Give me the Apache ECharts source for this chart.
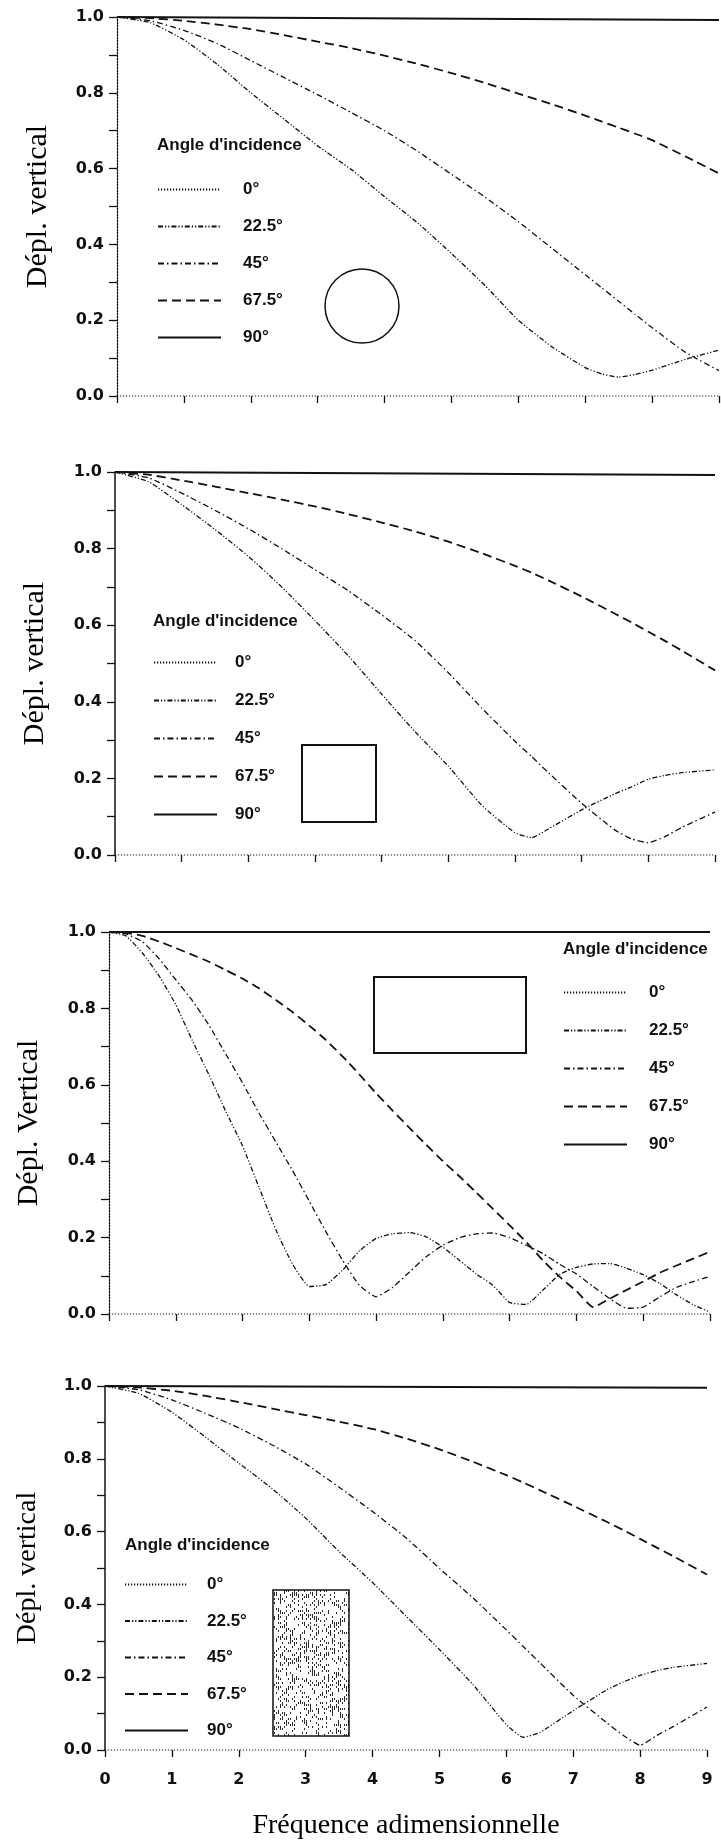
<!DOCTYPE html>
<html>
<head>
<meta charset="utf-8">
<script src="https://cdn.jsdelivr.net/npm/echarts@6/dist/echarts.min.js"></script>
<style>
  html, body { margin: 0; padding: 0; background: #fff; }
  #chart { width: 721px; height: 1847px; }
</style>
</head>
<body>
<div id="chart"></div>
<script>
// Vertical displacement ratio vs. dimensionless frequency, for four foundation shapes
// (circle, square, rectangle, stippled strip) and five angles of incidence.

const ANGLES = ['0°', '22.5°', '45°', '67.5°', '90°'];
const X_TICKS = [0, 1, 2, 3, 4, 5, 6, 7, 8, 9];

// Straight lines (0° and 90°) only need their end points
const FREQ_ENDS = [0, 9];
const ZERO_LINE = [0, 0];

// Circular foundation
const FREQ_CIRCLE = [0, 0.5, 1, 1.5, 2, 2.5, 3, 3.5, 4, 4.5, 5, 5.5, 6, 6.5, 7, 7.25, 7.5, 7.75, 8, 8.5, 9];
const CIRCLE_22 = [1.0, 0.985, 0.94, 0.875, 0.80, 0.73, 0.66, 0.598, 0.526, 0.456, 0.376, 0.292, 0.2, 0.13, 0.075, 0.058, 0.05, 0.057, 0.068, 0.097, 0.121];
const CIRCLE_45 = [1.0, 0.99, 0.965, 0.93, 0.885, 0.84, 0.795, 0.748, 0.70, 0.645, 0.585, 0.525, 0.46, 0.39, 0.32, 0.285, 0.25, 0.215, 0.18, 0.115, 0.067];
const CIRCLE_67 = [1.0, 0.997, 0.99, 0.98, 0.968, 0.952, 0.935, 0.918, 0.898, 0.876, 0.852, 0.826, 0.798, 0.77, 0.74, 0.724, 0.708, 0.692, 0.675, 0.632, 0.587];
const CIRCLE_90 = [1.0, 0.992];

// Square foundation
const FREQ_SQUARE = [0, 0.5, 1, 1.5, 2, 2.5, 3, 3.5, 4, 4.5, 5, 5.5, 6, 6.25, 6.5, 7, 7.5, 7.75, 8, 8.25, 8.5, 9];
const SQUARE_22 = [1.0, 0.975, 0.915, 0.85, 0.78, 0.70, 0.612, 0.52, 0.42, 0.322, 0.232, 0.13, 0.058, 0.045, 0.068, 0.118, 0.16, 0.178, 0.198, 0.208, 0.215, 0.222];
const SQUARE_45 = [1.0, 0.985, 0.945, 0.90, 0.852, 0.80, 0.745, 0.69, 0.627, 0.56, 0.476, 0.384, 0.297, 0.257, 0.215, 0.135, 0.065, 0.042, 0.032, 0.048, 0.072, 0.112];
const SQUARE_67 = [1.0, 0.993, 0.978, 0.962, 0.945, 0.928, 0.91, 0.89, 0.868, 0.845, 0.818, 0.788, 0.755, 0.737, 0.717, 0.675, 0.63, 0.607, 0.583, 0.559, 0.534, 0.482];
const SQUARE_90 = [1.0, 0.992];

// Rectangular foundation
const FREQ_RECT = [0, 0.25, 0.5, 0.75, 1, 1.25, 1.5, 1.75, 2, 2.25, 2.5, 2.75, 3, 3.25, 3.5, 3.75, 4, 4.25, 4.5, 4.75, 5, 5.25, 5.5, 5.75, 6, 6.25, 6.5, 6.75, 7, 7.25, 7.5, 7.75, 8, 8.25, 8.5, 8.75, 9];
const RECT_22 = [1.0, 0.99, 0.945, 0.885, 0.81, 0.715, 0.625, 0.53, 0.44, 0.33, 0.22, 0.13, 0.072, 0.077, 0.115, 0.165, 0.198, 0.21, 0.213, 0.202, 0.175, 0.14, 0.105, 0.075, 0.03, 0.025, 0.063, 0.104, 0.122, 0.131, 0.132, 0.12, 0.103, 0.08, 0.05, 0.024, 0.005];
const RECT_45 = [1.0, 0.995, 0.975, 0.93, 0.875, 0.82, 0.755, 0.68, 0.605, 0.525, 0.45, 0.375, 0.295, 0.215, 0.14, 0.075, 0.045, 0.07, 0.11, 0.15, 0.18, 0.2, 0.21, 0.212, 0.2, 0.18, 0.158, 0.13, 0.105, 0.072, 0.04, 0.015, 0.018, 0.045, 0.07, 0.085, 0.098];
const RECT_67 = [1.0, 0.998, 0.99, 0.975, 0.958, 0.94, 0.922, 0.9, 0.878, 0.852, 0.822, 0.79, 0.755, 0.717, 0.674, 0.627, 0.578, 0.532, 0.487, 0.443, 0.4, 0.36, 0.318, 0.275, 0.232, 0.188, 0.14, 0.097, 0.06, 0.018, 0.04, 0.063, 0.085, 0.108, 0.127, 0.145, 0.163];
const RECT_90 = [1.0, 1.0];

// Stippled (soil-filled) foundation
const FREQ_STRIP = [0, 0.5, 1, 1.5, 2, 2.5, 3, 3.5, 4, 4.5, 5, 5.5, 6, 6.25, 6.5, 7, 7.5, 7.75, 8, 8.25, 8.5, 9];
const STRIP_22 = [1.0, 0.98, 0.928, 0.86, 0.788, 0.718, 0.637, 0.545, 0.46, 0.368, 0.276, 0.18, 0.07, 0.035, 0.048, 0.108, 0.165, 0.187, 0.205, 0.218, 0.227, 0.238];
const STRIP_45 = [1.0, 0.99, 0.962, 0.925, 0.885, 0.838, 0.786, 0.722, 0.655, 0.583, 0.499, 0.418, 0.33, 0.285, 0.24, 0.15, 0.075, 0.04, 0.013, 0.04, 0.065, 0.118];
const STRIP_67 = [1.0, 0.996, 0.987, 0.973, 0.956, 0.938, 0.92, 0.902, 0.882, 0.856, 0.826, 0.792, 0.755, 0.735, 0.714, 0.671, 0.627, 0.604, 0.58, 0.556, 0.532, 0.482];
const STRIP_90 = [1.0, 0.995];

// ---------------------------------------------------------------------------

const INK = '#111';
const LINE_STYLES = {
  '0°':    { type: [1.2, 1.8], width: 1.2 },
  '22.5°': { type: [5, 2, 1.2, 2, 1.2, 2], width: 1.3 },
  '45°':   { type: [6, 3, 1.5, 3], width: 1.3 },
  '67.5°': { type: [9, 5], width: 1.8 },
  '90°':   { type: 'solid', width: 2 }
};

const PANELS = [
  {
    freq: FREQ_CIRCLE, curves: [ZERO_LINE, CIRCLE_22, CIRCLE_45, CIRCLE_67, CIRCLE_90],
    grid: { left: 117, top: 17, width: 602, height: 379 }, dottedAxis: true,
    yName: 'Dépl. vertical', yNameSize: 30, yGap: 64,
    legend: { left: 157, top: 181, gap: 20, pad: 17 }, heading: { left: 157, top: 137 }
  },
  {
    freq: FREQ_SQUARE, curves: [ZERO_LINE, SQUARE_22, SQUARE_45, SQUARE_67, SQUARE_90],
    grid: { left: 115, top: 472, width: 600, height: 383 }, dottedAxis: false,
    yName: 'Dépl. vertical', yNameSize: 30, yGap: 65,
    legend: { left: 153, top: 654, gap: 21, pad: 13 }, heading: { left: 153, top: 613 }
  },
  {
    freq: FREQ_RECT, curves: [ZERO_LINE, RECT_22, RECT_45, RECT_67, RECT_90],
    grid: { left: 109, top: 932, width: 601, height: 382 }, dottedAxis: true,
    yName: 'Dépl. Vertical', yNameSize: 30, yGap: 65,
    legend: { left: 563, top: 984, gap: 21, pad: 17 }, heading: { left: 563, top: 941 }
  },
  {
    freq: FREQ_STRIP, curves: [ZERO_LINE, STRIP_22, STRIP_45, STRIP_67, STRIP_90],
    grid: { left: 105, top: 1386, width: 602, height: 364 }, dottedAxis: false,
    yName: 'Dépl. vertical', yNameSize: 28, yGap: 63,
    legend: { left: 124, top: 1576, gap: 19.5, pad: 14 }, heading: { left: 125, top: 1537 },
    xName: 'Fréquence adimensionnelle'
  }
];

function zip(xs, ys) {
  return xs.map((x, i) => [x, ys[i]]);
}

// Speckled texture for the soil-filled inset (hash-based, same on every load)
function stippleTexture() {
  const w = 76, h = 146;
  const c = document.createElement('canvas');
  c.width = w; c.height = h;
  const g = c.getContext('2d');
  g.fillStyle = '#fff';
  g.fillRect(0, 0, w, h);
  g.fillStyle = '#2b2b2b';
  for (let y = 0; y < h; y += 2) {
    for (let x = 0; x < w; x += 2) {
      let n = Math.imul(x + 17, 374761393) + Math.imul(y + 5, 668265263);
      n = Math.imul(n ^ (n >>> 13), 1274126177);
      n = (n ^ (n >>> 16)) >>> 0;
      if (n % 100 < 30) g.fillRect(x, y, 1, 2);
    }
  }
  return c;
}

const grids = [], xAxes = [], yAxes = [], series = [], legends = [], titles = [];

PANELS.forEach((p, i) => {
  grids.push(Object.assign({ outerBoundsMode: 'none', containLabel: false }, p.grid));

  xAxes.push({
    gridIndex: i, type: 'value', min: 0, max: 9, interval: 1,
    axisLine: { show: false },
    axisTick: { show: true, length: 7, lineStyle: { color: INK, width: 1.3 } },
    splitLine: { show: false },
    axisLabel: {
      show: !!p.xName, margin: 22,
      formatter: v => X_TICKS.includes(v) ? String(v) : '',
      fontFamily: 'DejaVu Sans', fontWeight: 'bold', fontSize: 16, color: INK
    },
    name: p.xName || '', nameLocation: 'middle', nameGap: 62, nameMoveOverlap: false,
    nameTextStyle: { fontFamily: 'Liberation Serif', fontSize: 28, color: '#000' }
  });

  yAxes.push({
    gridIndex: i, type: 'value', min: 0, max: 1, interval: 0.2,
    axisLine: { show: true, onZero: false,
      lineStyle: { color: INK, width: p.dottedAxis ? 1.3 : 1.5, type: p.dottedAxis ? [1.5, 1.5] : 'solid' } },
    axisTick: { show: true, length: 8, lineStyle: { color: INK, width: 1.3 } },
    minorTick: { show: true, splitNumber: 2, length: 8, lineStyle: { color: INK, width: 1.3 } },
    splitLine: { show: false },
    axisLabel: {
      margin: 13, formatter: v => v.toFixed(1),
      fontFamily: 'DejaVu Sans', fontWeight: 'bold', fontSize: 16, color: INK
    },
    name: p.yName, nameLocation: 'middle', nameRotate: 90, nameGap: p.yGap, nameMoveOverlap: false,
    nameTextStyle: { fontFamily: 'Liberation Serif', fontSize: p.yNameSize, color: '#000' }
  });

  ANGLES.forEach((name, k) => {
    const xs = (k === 0 || k === 4) ? FREQ_ENDS : p.freq;
    series.push({
      name, type: 'line', xAxisIndex: i, yAxisIndex: i,
      data: zip(xs, p.curves[k]),
      symbol: 'none', showSymbol: false, smooth: 0.15, clip: false,
      itemStyle: { color: INK },
      lineStyle: { color: INK, width: LINE_STYLES[name].width, type: LINE_STYLES[name].type },
      emphasis: { disabled: true }, silent: true
    });
  });

  legends.push({
    orient: 'vertical', left: p.legend.left, top: p.legend.top, padding: 0,
    itemGap: p.legend.gap, itemWidth: 63, itemHeight: 14, selectedMode: false,
    data: ANGLES,
    itemStyle: { opacity: 0 },
    textStyle: { fontFamily: 'Liberation Sans', fontWeight: 'bold', fontSize: 17, color: INK,
      padding: [0, 0, 0, p.legend.pad] }
  });

  titles.push({
    text: "Angle d'incidence", left: p.heading.left, top: p.heading.top, padding: 0,
    textStyle: { fontFamily: 'Liberation Sans', fontWeight: 'bold', fontSize: 17, color: INK }
  });
});

const chart = echarts.init(document.getElementById('chart'), null, { renderer: 'canvas' });
chart.setOption({
  animation: false,
  backgroundColor: '#fff',
  title: titles,
  legend: legends,
  grid: grids,
  xAxis: xAxes,
  yAxis: yAxes,
  series,
  graphic: [
    { type: 'circle', shape: { cx: 362, cy: 306, r: 37 },
      style: { fill: 'none', stroke: INK, lineWidth: 1.5 } },
    { type: 'rect', shape: { x: 302, y: 745, width: 74, height: 77 },
      style: { fill: 'none', stroke: INK, lineWidth: 2 } },
    { type: 'rect', shape: { x: 374, y: 977, width: 152, height: 76 },
      style: { fill: 'none', stroke: INK, lineWidth: 2 } },
    { type: 'rect', shape: { x: 273, y: 1590, width: 76, height: 146 },
      style: { fill: { image: stippleTexture(), repeat: 'repeat' }, stroke: INK, lineWidth: 1.5 } }
  ]
});
</script>
</body>
</html>
